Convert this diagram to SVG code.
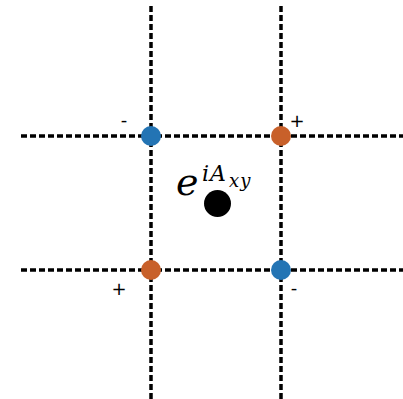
<svg xmlns="http://www.w3.org/2000/svg" width="403" height="399" viewBox="0 0 403 399">
<style>
.grid{stroke:#000;stroke-width:3.5;stroke-dasharray:6 3;fill:none}
.sign{font-family:"DejaVu Sans",sans-serif;font-size:18px;fill:#000}
.m{font-family:"DejaVu Serif",serif;font-style:italic;fill:#000}
</style>
<rect width="403" height="399" fill="#fff"/>
<g id="connectors">
<line class="grid" x1="151" y1="6" x2="151" y2="399"/>
<line class="grid" x1="281" y1="6" x2="281" y2="399"/>
<line class="grid" x1="21" y1="136" x2="403" y2="136"/>
<line class="grid" x1="21" y1="270" x2="403" y2="270"/>
</g>
<g id="node-tl"><circle cx="151" cy="136" r="10" fill="#2374b4"/><text class="sign" x="124" y="126" text-anchor="middle">-</text></g>
<g id="node-tr"><circle cx="281" cy="136" r="10" fill="#c8602a"/><text class="sign" x="297" y="127" text-anchor="middle">+</text></g>
<g id="node-bl"><circle cx="151" cy="270" r="10" fill="#c8602a"/><text class="sign" x="119" y="295" text-anchor="middle">+</text></g>
<g id="node-br"><circle cx="281" cy="270" r="10" fill="#2374b4"/><text class="sign" x="294" y="294" text-anchor="middle">-</text></g>
<g id="node-center"><circle cx="217.5" cy="203.5" r="13.5" fill="#000"/>
<text class="m" x="176" y="195" font-size="38" font-weight="300">e<tspan x="202" y="181" font-size="22" letter-spacing="1">iA</tspan><tspan x="229" y="187" font-size="18" letter-spacing="1">xy</tspan></text></g>
</svg>
